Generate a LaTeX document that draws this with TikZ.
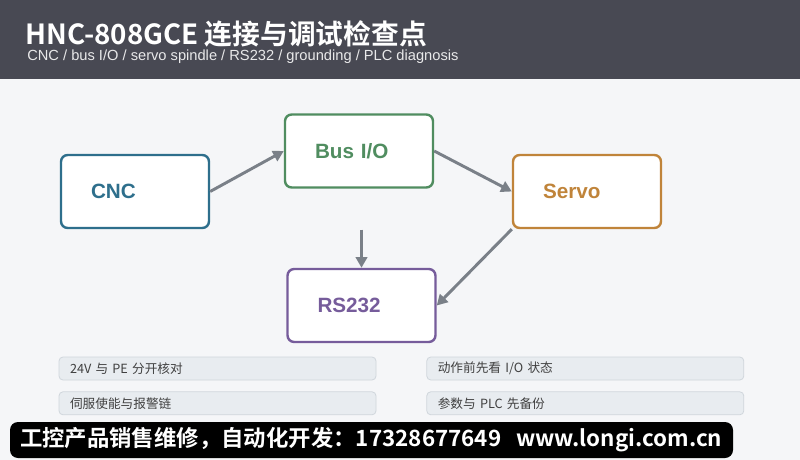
\documentclass[tikz,border=0pt]{standalone}
\usepackage{fontspec}
\setmainfont{Liberation Sans}
\newfontfamily\cjk[BoldFont={Noto Sans CJK SC Bold}]{Noto Sans CJK SC}
\usepackage{xcolor}
\usetikzlibrary{arrows.meta, positioning}

\definecolor{headbg}{RGB}{72,73,83}
\definecolor{pagebg}{RGB}{245,246,248}
\definecolor{cncblue}{RGB}{46,111,140}
\definecolor{busgreen}{RGB}{80,141,96}
\definecolor{servoorange}{RGB}{192,132,58}
\definecolor{rspurple}{RGB}{118,92,155}
\definecolor{wiregray}{RGB}{122,128,136}
\definecolor{notefill}{RGB}{232,236,240}
\definecolor{noteline}{RGB}{208,214,220}

\begin{document}
\begin{tikzpicture}[
        x=0.75pt, y=-0.75pt,
        unit/.style={rectangle, draw, fill=white, line width=1.8pt, rounded corners=5pt,
            text width=66pt, inner xsep=22.5pt, align=left, minimum height=54.75pt,
            font=\fontsize{15.5}{18}\selectfont\bfseries},
        note/.style={rectangle, draw=noteline, fill=notefill, line width=0.6pt, rounded corners=3pt,
            text width=221.25pt, inner xsep=8.25pt, inner ysep=0pt, align=left, minimum height=17.25pt,
            text=black!75, font=\cjk\fontsize{9.5}{11}\selectfont},
        arrow/.style={-{Triangle[length=8pt, width=8.5pt]}, line width=2.2pt, draw=wiregray}
    ]
        % page and header
        \fill[pagebg] (0,0) rectangle (800,460);
        \fill[headbg] (0,0) rectangle (800,79);
        \node[anchor=base west, inner sep=0pt, text=white, font=\cjk\fontsize{20.8}{24}\selectfont\bfseries]
            (title) at (25,45) {HNC-808GCE 连接与调试检查点};
        \node[anchor=base west, inner sep=0pt, text=white!88!headbg, font=\fontsize{11}{13}\selectfont]
            (subtitle) at (27,61) {CNC / bus I/O / servo spindle / RS232 / grounding / PLC diagnosis};

        % units
        \node[unit, draw=cncblue, text=cncblue] (cnc) at (135,191.5) {CNC};
        \node[unit, draw=busgreen, text=busgreen] (bus) at (359,151) {Bus I/O};
        \node[unit, draw=servoorange, text=servoorange] (servo) at (587,191.5) {Servo};
        \node[unit, draw=rspurple, text=rspurple] (rs) at (361.5,305.5) {RS232};

        \draw[arrow] (cnc.east) -- (bus.west);
        \draw[arrow] (bus.east) -- (servo.west);
        \draw[arrow, shorten <=30.75pt] (rs.north |- bus.south) -- (rs.north);
        \draw[arrow] (servo.south west) -- (rs.east);

        % check notes
        \node[note] (n1) at (217.5,368.5) {24V 与 PE 分开核对};
        \node[note, below=8.25pt of n1] (n2) {伺服使能与报警链};
        \node[note, right=37.5pt of n1] (n3) {动作前先看 I/O 状态};
        \node[note, below=8.25pt of n3] (n4) {参数与 PLC 先备份};

        % banner
        \node[rectangle, fill=black, rounded corners=6pt, text=white, text width=527.25pt, inner xsep=7.5pt,
            minimum height=27pt, align=left, font=\cjk\fontsize{16.8}{19}\selectfont\bfseries]
            (banner) at (371.5,440) {工控产品销售维修，自动化开发：17328677649\ \ www.longi.com.cn};
    \end{tikzpicture}
\end{document}
